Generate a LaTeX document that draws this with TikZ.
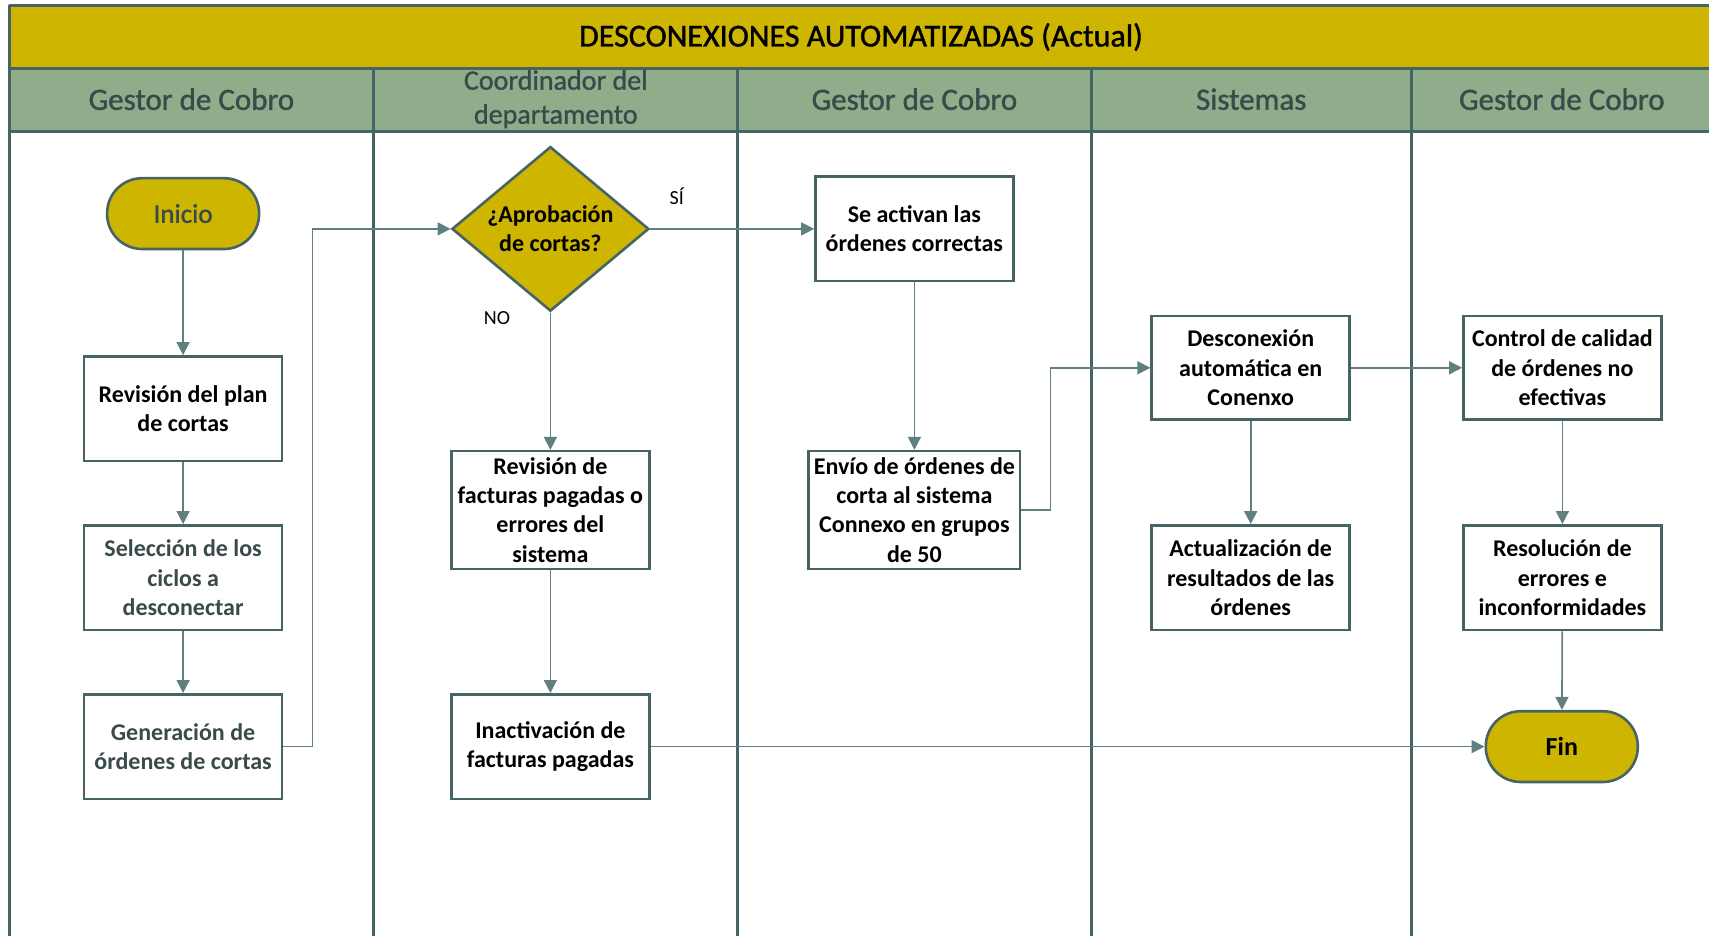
\documentclass[tikz,border=0pt]{standalone}
\usepackage{fontspec}
\setmainfont{Carlito}
\newfontfamily\medfont{Carlito}[FakeBold=1.2]
\usetikzlibrary{arrows.meta,shapes.geometric}
\definecolor{titlefill}{RGB}{205,181,0}
\definecolor{headfill}{RGB}{143,173,139}
\definecolor{frame}{RGB}{70,100,100}
\definecolor{link}{RGB}{96,128,128}
\definecolor{slate}{RGB}{58,74,74}
\begin{document}
\begin{tikzpicture}[x=1pt,y=-1pt,
  lane/.style={draw=frame,line width=3pt},
  box/.style={draw=frame,line width=2.6pt,fill=white,minimum width=198pt,
    minimum height=104.6pt,inner sep=0pt,align=center,
    font=\bfseries\fontsize{24}{29.3}\selectfont},
  term/.style={draw=frame,line width=2.6pt,fill=titlefill,minimum width=152pt,
    minimum height=70.8pt,rounded corners=35pt,inner sep=0pt,
    font=\medfont\fontsize{27}{30}\selectfont},
  decision/.style={diamond,draw=frame,line width=2.6pt,fill=titlefill,
    minimum width=197pt,minimum height=164.6pt,aspect=1.2,inner sep=0pt,align=center,
    font=\bfseries\fontsize{24}{29.3}\selectfont},
  head/.style={text=slate,align=center,font=\medfont\fontsize{31}{34}\selectfont},
  flow/.style={draw=link,line width=1.6pt,-{Triangle[length=13pt,width=13pt]}},
  tag/.style={font=\fontsize{20}{24}\selectfont}
]
\useasboundingbox (0,0) rectangle (1709,936);

% title bar and lane headers
\fill[titlefill] (9,5.4) rectangle (1711,68.7);
\fill[headfill] (9,68.7) rectangle (1711,131.9);
\draw[lane] (9,5.4) -- (1711,5.4);
\draw[lane] (9,68.7) -- (1711,68.7);
\draw[lane] (9,131.9) -- (1711,131.9);
\draw[lane] (9,5.4) -- (9,936);
\foreach \lx in {373.8,737.9,1091,1411.4} \draw[lane] (\lx,68.7) -- (\lx,936);

\node[font=\medfont\fontsize{32}{34}\selectfont] (title) at (861,37) {DESCONEXIONES AUTOMATIZADAS (Actual)};
\node[head] (h1) at (191.4,99.2) {Gestor de Cobro};
\node[head,font=\medfont\fontsize{28}{34}\selectfont] (h2) at (555.8,99.2) {Coordinador del\\departamento};
\node[head] (h3) at (914.4,99.2) {Gestor de Cobro};
\node[head] (h4) at (1251.2,99.2) {Sistemas};
\node[head] (h5) at (1561.8,99.2) {Gestor de Cobro};

% process steps
\node[term,text=slate] (ini) at (183.1,213.6) {Inicio};
\node[box] (plan) at (183.1,408.7) {Revisión del plan\\de cortas};
\node[box,text=slate] (sel) at (183.1,577.7) {Selección de los\\ciclos a\\desconectar};
\node[box,text=slate] (gen) at (183.1,746.6) {Generación de\\órdenes de cortas};

\node[decision] (dec) at (550.4,228.9) {¿Aprobación\\de cortas?};
\node[box,minimum height=117.7pt] (rev) at (550.4,510) {Revisión de\\facturas pagadas o\\errores del\\sistema};
\node[box] (ina) at (550.4,746.6) {Inactivación de\\facturas pagadas};

\node[box] (act) at (914.4,228.9) {Se activan las\\órdenes correctas};
\node[box,minimum width=211.4pt,minimum height=117.7pt] (env) at (914.4,510) {Envío de órdenes de\\corta al sistema\\Connexo en grupos\\de 50};

\node[box,minimum height=103.5pt] (des) at (1250.7,367.8) {Desconexión\\automática en\\Conenxo};
\node[box] (upd) at (1250.7,577.7) {Actualización de\\resultados de las\\órdenes};

\node[box,minimum height=103.5pt] (cal) at (1562.4,367.8) {Control de calidad\\de órdenes no\\efectivas};
\node[box] (res) at (1562.4,577.7) {Resolución de\\errores e\\inconformidades};
\node[term,font=\bfseries\fontsize{26}{30}\selectfont] (fin) at (1561.8,746.6) {Fin};

% connectors
\draw[flow] (ini) -- (plan);
\draw[flow] (plan) -- (sel);
\draw[flow] (sel) -- (gen);
\draw[flow] (gen.east) -- ++(29,0) |- (dec.west);
\draw[flow] (dec.east) -- (act.west);
\draw[flow] (dec.south) -- (rev.north);
\draw[flow] (rev) -- (ina);
\draw[flow] (ina.east) -- (fin.west);
\draw[flow] (act) -- (env);
\draw[flow] (env.east) -- ++(29,0) |- (des.west);
\draw[flow] (des.east) -- (cal.west);
\draw[flow] (des) -- (upd);
\draw[flow] (cal) -- (res);
\draw[flow] (res) -- (fin);

\node[tag] (si) at (676.8,196.2) {SÍ};
\node[tag] (no) at (497,318.3) {NO};
\end{tikzpicture}
\end{document}
